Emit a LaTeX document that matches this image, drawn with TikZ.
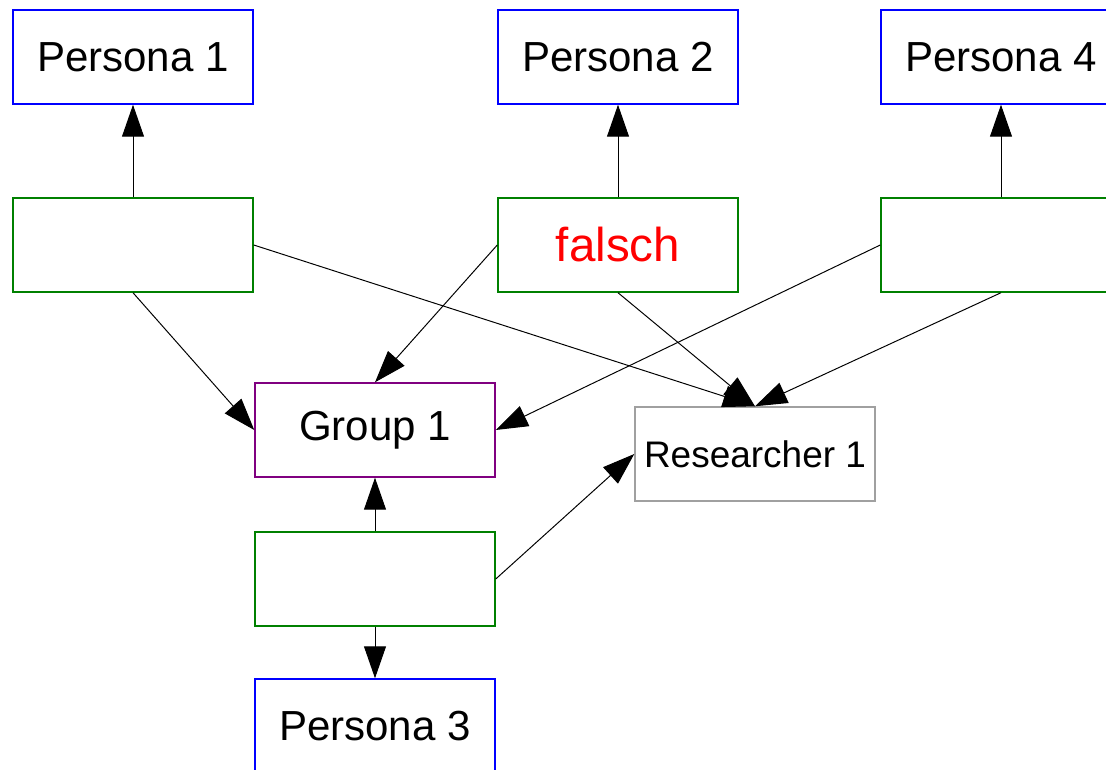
\documentclass[tikz,border=0pt]{standalone}
\usepackage{fontspec}
\setmainfont{Liberation Sans}
\usetikzlibrary{arrows.meta}
\definecolor{personablue}{HTML}{0000FF}
\definecolor{filtergreen}{HTML}{008000}
\definecolor{grouppurple}{HTML}{800080}
\definecolor{researchgray}{HTML}{A0A0A0}
\definecolor{falschred}{HTML}{FF0000}

\begin{document}
\begin{tikzpicture}[
  x=0.025cm,
  y=-0.025cm,
  every node/.style={font=\fontsize{29.9}{34}\selectfont, inner sep=0pt,
    minimum width=6cm, minimum height=2.35cm, line width=1pt},
  persona/.style={draw=personablue},
  filterbox/.style={draw=filtergreen},
  groupbox/.style={draw=grouppurple},
  researcher/.style={draw=researchgray, font=\fontsize{26.3}{30}\selectfont},
  link/.style={-{Triangle[length=0.8cm, width=0.55cm]}, line width=0.7pt}
]
  \clip (0,0) rectangle (1106,770);

  \node[persona] (p1) at (133,57) {Persona 1};
  \node[persona] (p2) at (618,57) {Persona 2};
  \node[persona] (p4) at (1001,57) {Persona 4};

  \node[filterbox] (f1) at (133,245) {};
  \node[filterbox, font=\fontsize{33.8}{38}\selectfont, text=falschred] (f2) at (618,245) {falsch};
  \node[filterbox] (f4) at (1001,245) {};

  \node[groupbox] (g1) at (375,430) {Group 1};
  \node[researcher] (r1) at (755,454) {Researcher 1};

  \node[filterbox] (f3) at (375,579) {};
  \node[persona] (p3) at (375,726) {Persona 3};

  \draw[link] (f1.north) -- (p1.south);
  \draw[link] (f2.north) -- (p2.south);
  \draw[link] (f4.north) -- (p4.south);

  \draw[link] (f1.south) -- (g1.west);
  \draw[link] (f2.west) -- (g1.north);
  \draw[link] (f4.west) -- (g1.east);

  \draw[link] (f1.east) -- (r1.north);
  \draw[link] (f2.south) -- (r1.north);
  \draw[link] (f4.south) -- (r1.north);

  \draw[link] (f3.north) -- (g1.south);
  \draw[link] (f3.south) -- (p3.north);
  \draw[link] (f3.east) -- (r1.west);
\end{tikzpicture}
\end{document}
